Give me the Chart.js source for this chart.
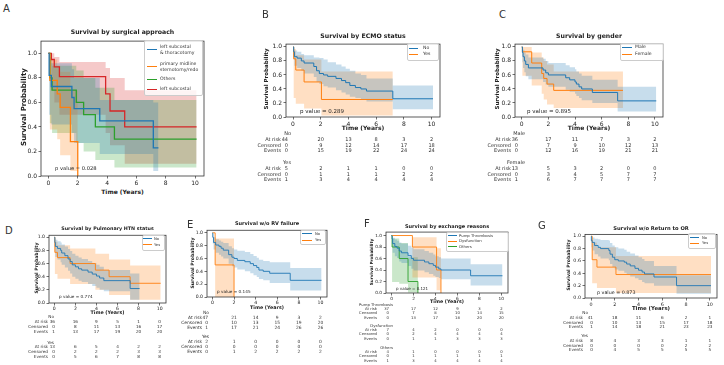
<!DOCTYPE html>
<html>
<head>
<meta charset="utf-8">
<script src="https://cdn.jsdelivr.net/npm/chart.js@4/dist/chart.umd.min.js"></script>
<style>
  body { margin: 0; background: #fff; }
  #fig { position: relative; width: 724px; height: 365px; overflow: hidden; background: #fff;
         font-family: "DejaVu Sans", sans-serif; color: #222; }
  .abs { position: absolute; white-space: pre; line-height: 1.2; }
  .box { position: absolute; }
  .leg { position: absolute; border: 0.6px solid #ccc; border-radius: 2px; background: rgba(255,255,255,0.8); }
  .sw { position: absolute; height: 0; }
</style>
</head>
<body>
<div id="fig"></div>
<script>
// ---- data ----
const xTicks = [0, 2, 4, 6, 8, 10];
const yTicks = [0, 0.2, 0.4, 0.6, 0.8, 1.0];
const rowNames = ['At risk', 'Censored', 'Events'];

// A: survival by surgical approach
const aLabels = ['left subcostal\n& thoracotomy', 'primary midline\nsternotomy/redo', 'Others', 'left subcostal'];
const aThorT  = [0, 0.05, 0.2, 1.6, 1.75, 3.5, 7.15, 7.5];
const aThorS  = [1, 0.82, 0.73, 0.64, 0.55, 0.45, 0.23, 0.23];
const aThorHi = [1, 0.97, 0.92, 0.87, 0.8, 0.62, 0.6, 0.6];
const aThorLo = [1, 0.5, 0.42, 0.35, 0.27, 0.18, 0.04, 0.04];
const aMidT  = [0, 0.1, 0.6, 0.8, 1.5, 2.0];
const aMidS  = [1, 0.78, 0.67, 0.56, 0.28, 0];
const aMidHi = [1, 0.95, 0.9, 0.85, 0.7, 0];
const aMidLo = [1, 0.38, 0.3, 0.17, 0.04, 0];
const aOthT  = [0, 0.1, 0.25, 1.9, 2.4, 3.2, 4.5, 10.1];
const aOthS  = [1, 0.8, 0.7, 0.6, 0.5, 0.4, 0.3, 0.3];
const aOthHi = [1, 0.95, 0.9, 0.86, 0.8, 0.72, 0.62, 0.62];
const aOthLo = [1, 0.43, 0.35, 0.27, 0.2, 0.13, 0.07, 0.07];
const aSubT  = [0, 0.2, 0.4, 0.75, 3.9, 4.2, 5.2, 10.1];
const aSubS  = [1, 0.95, 0.89, 0.81, 0.67, 0.53, 0.4, 0.4];
const aSubHi = [1, 1.0, 0.97, 0.93, 0.88, 0.8, 0.7, 0.7];
const aSubLo = [1, 0.7, 0.6, 0.5, 0.35, 0.25, 0.1, 0.1];

// B: ECMO status
const bLabels = ['No', 'Yes'];
const bNoT  = [0, 0.05, 0.1, 0.3, 0.6, 0.8, 1.5, 1.7, 1.9, 2.2, 2.5, 3.1, 3.5, 3.8, 4.1, 4.5, 4.9, 5.3, 7.2, 10.1];
const bNoS  = [1, 0.93, 0.86, 0.84, 0.8, 0.77, 0.72, 0.66, 0.62, 0.6, 0.58, 0.55, 0.52, 0.49, 0.45, 0.42, 0.4, 0.37, 0.26, 0.26];
const bNoHi = [1, 0.98, 0.95, 0.93, 0.9, 0.88, 0.85, 0.85, 0.84, 0.82, 0.78, 0.75, 0.72, 0.69, 0.66, 0.62, 0.6, 0.55, 0.45, 0.45];
const bNoLo = [1, 0.82, 0.73, 0.7, 0.66, 0.62, 0.57, 0.5, 0.47, 0.44, 0.42, 0.38, 0.35, 0.32, 0.29, 0.27, 0.25, 0.22, 0.11, 0.11];
const bYesT  = [0, 0.05, 0.2, 0.8, 2.05, 7.2];
const bYesS  = [1, 0.83, 0.67, 0.5, 0.25, 0.25];
const bYesHi = [1, 0.97, 0.88, 0.82, 0.65, 0.65];
const bYesLo = [1, 0.27, 0.19, 0.12, 0.02, 0.02];
const bNoRisk = [44, 20, 13, 8, 3, 2],  bNoCens = [0, 9, 12, 14, 17, 18], bNoEvents = [0, 15, 19, 22, 24, 24];
const bYesRisk = [5, 2, 1, 1, 0, 0],    bYesCens = [0, 1, 1, 1, 2, 2],    bYesEvents = [1, 3, 4, 4, 4, 4];

// C: gender
const cLabels = ['Male', 'Female'];
const cMaleT  = [0, 0.05, 0.1, 0.2, 0.3, 0.5, 1.6, 1.8, 2.0, 3.3, 3.6, 4.0, 4.1, 4.3, 4.5, 5.3, 7.2, 10.1];
const cMaleS  = [1, 0.92, 0.86, 0.8, 0.75, 0.7, 0.67, 0.63, 0.6, 0.56, 0.53, 0.5, 0.47, 0.43, 0.4, 0.35, 0.23, 0.23];
const cMaleHi = [1, 0.99, 0.96, 0.92, 0.89, 0.85, 0.83, 0.8, 0.77, 0.74, 0.71, 0.68, 0.65, 0.62, 0.59, 0.53, 0.43, 0.43];
const cMaleLo = [1, 0.78, 0.7, 0.64, 0.58, 0.54, 0.5, 0.46, 0.43, 0.39, 0.36, 0.33, 0.3, 0.27, 0.24, 0.2, 0.08, 0.08];
const cFemT  = [0, 0.05, 0.75, 1.5, 1.65, 1.9, 2.4, 7.6];
const cFemS  = [1, 0.93, 0.77, 0.62, 0.55, 0.47, 0.38, 0.38];
const cFemHi = [1, 1.0, 0.92, 0.85, 0.8, 0.75, 0.65, 0.65];
const cFemLo = [1, 0.59, 0.45, 0.33, 0.25, 0.18, 0.13, 0.13];
const cMaleRisk = [36, 17, 11, 7, 3, 2], cMaleCens = [0, 7, 9, 10, 12, 13], cMaleEvents = [0, 12, 16, 19, 21, 21];
const cFemRisk = [13, 5, 3, 2, 0, 0],    cFemCens = [0, 3, 4, 5, 7, 7],     cFemEvents = [1, 6, 7, 7, 7, 7];

// D: pulmonary HTN
const dLabels = ['No', 'Yes'];
const dNoT  = [0, 0.05, 0.1, 0.3, 0.6, 0.7, 1.0, 1.3, 1.5, 1.7, 2.0, 2.3, 2.6, 3.2, 3.6, 4.0, 4.3, 4.7, 7.2, 8.1];
const dNoS  = [1, 0.92, 0.86, 0.83, 0.8, 0.76, 0.72, 0.67, 0.63, 0.58, 0.55, 0.52, 0.5, 0.47, 0.44, 0.41, 0.38, 0.34, 0.22, 0.22];
const dNoHi = [1, 0.99, 0.96, 0.94, 0.92, 0.89, 0.86, 0.82, 0.79, 0.75, 0.72, 0.69, 0.67, 0.64, 0.61, 0.58, 0.55, 0.5, 0.45, 0.45];
const dNoLo = [1, 0.78, 0.7, 0.66, 0.62, 0.58, 0.54, 0.49, 0.45, 0.4, 0.37, 0.34, 0.32, 0.29, 0.26, 0.23, 0.2, 0.18, 0.05, 0.05];
const dYesT  = [0, 0.05, 0.3, 1.5, 3.9, 5.2, 7.2, 10.1];
const dYesS  = [1, 0.77, 0.69, 0.6, 0.5, 0.4, 0.3, 0.3];
const dYesHi = [1, 0.93, 0.88, 0.83, 0.75, 0.66, 0.57, 0.57];
const dYesLo = [1, 0.44, 0.37, 0.29, 0.2, 0.12, 0.05, 0.05];
const dNoRisk = [36, 16, 9, 5, 1, 0],  dNoCens = [0, 8, 11, 13, 16, 17], dNoEvents = [1, 13, 17, 19, 20, 20];
const dYesRisk = [13, 6, 5, 4, 2, 2],  dYesCens = [0, 2, 2, 2, 3, 3],    dYesEvents = [0, 5, 6, 7, 8, 8];

// E: RV failure
const eLabels = ['No', 'Yes'];
const eNoT  = [0, 0.03, 0.1, 0.3, 0.6, 0.8, 1.0, 1.5, 1.8, 2.0, 2.3, 3.0, 3.5, 3.8, 4.1, 4.3, 4.7, 5.3, 7.2, 10.1];
const eNoS  = [1, 0.93, 0.85, 0.81, 0.79, 0.76, 0.73, 0.66, 0.62, 0.6, 0.57, 0.55, 0.52, 0.49, 0.46, 0.42, 0.4, 0.37, 0.26, 0.26];
const eNoHi = [1, 0.98, 0.93, 0.9, 0.88, 0.86, 0.84, 0.79, 0.76, 0.74, 0.72, 0.7, 0.67, 0.64, 0.61, 0.58, 0.56, 0.54, 0.45, 0.45];
const eNoLo = [1, 0.83, 0.74, 0.69, 0.66, 0.63, 0.6, 0.52, 0.48, 0.46, 0.43, 0.4, 0.37, 0.34, 0.31, 0.28, 0.26, 0.22, 0.1, 0.1];
const eYesT  = [0, 0.25, 2.0];
const eYesS  = [1, 0.5, 0];
const eYesHi = [1, 0.91, 0];
const eYesLo = [1, 0, 0];
const eNoRisk = [47, 21, 14, 9, 3, 2], eNoCens = [0, 10, 13, 15, 19, 20], eNoEvents = [1, 17, 21, 24, 26, 26];
const eYesRisk = [2, 1, 0, 0, 0, 0],   eYesCens = [0, 0, 0, 0, 0, 0],     eYesEvents = [0, 1, 2, 2, 2, 2];

// F: exchange reasons
const fLabels = ['Pump Thrombosis', 'Dysfunction', 'Others'];
const fPumpT  = [0, 0.05, 0.1, 0.3, 0.5, 0.7, 0.9, 1.5, 1.8, 2.0, 3.0, 3.4, 3.8, 4.0, 4.3, 4.5, 7.2, 10.1];
const fPumpS  = [1, 0.94, 0.86, 0.81, 0.78, 0.73, 0.7, 0.65, 0.6, 0.57, 0.54, 0.51, 0.48, 0.45, 0.42, 0.4, 0.3, 0.3];
const fPumpHi = [1, 0.99, 0.96, 0.93, 0.91, 0.88, 0.86, 0.82, 0.79, 0.76, 0.73, 0.7, 0.67, 0.64, 0.62, 0.6, 0.5, 0.5];
const fPumpLo = [1, 0.8, 0.7, 0.64, 0.61, 0.55, 0.52, 0.47, 0.42, 0.39, 0.36, 0.33, 0.3, 0.28, 0.26, 0.24, 0.13, 0.13];
const fDysT  = [0, 1.9, 4.1, 4.5];
const fDysS  = [1, 0.8, 0.4, 0];
const fDysHi = [1, 0.97, 0.78, 0];
const fDysLo = [1, 0.27, 0.05, 0];
const fOthT  = [0, 0.05, 0.7, 1.5, 2.4];
const fOthS  = [1, 0.8, 0.6, 0.2, 0];
const fOthHi = [1, 0.95, 0.87, 0.62, 0];
const fOthLo = [1, 0.19, 0.16, 0.01, 0];
const fPumpRisk = [37, 17, 12, 9, 3, 2], fPumpCens = [0, 7, 8, 10, 14, 15], fPumpEvents = [0, 13, 17, 18, 20, 20];
const fDysRisk = [7, 4, 2, 0, 0, 0],     fDysCens = [0, 2, 4, 4, 4, 4],     fDysEvents = [0, 1, 1, 3, 3, 3];
const fOthRisk = [4, 1, 0, 0, 0, 0],     fOthCens = [0, 1, 1, 1, 1, 1],     fOthEvents = [1, 3, 4, 4, 4, 4];

// G: return to OR
const gLabels = ['No', 'Yes'];
const gNoT  = [0, 0.03, 0.1, 0.3, 0.6, 0.8, 1.5, 1.6, 1.8, 2.0, 2.3, 2.8, 3.0, 3.3, 3.7, 4.0, 4.3, 4.5, 5.3, 7.2, 10.1];
const gNoS  = [1, 0.93, 0.9, 0.85, 0.82, 0.8, 0.77, 0.71, 0.66, 0.62, 0.6, 0.58, 0.55, 0.52, 0.48, 0.45, 0.42, 0.39, 0.34, 0.2, 0.2];
const gNoHi = [1, 0.99, 0.98, 0.96, 0.95, 0.94, 0.93, 0.89, 0.85, 0.82, 0.8, 0.78, 0.75, 0.72, 0.69, 0.66, 0.63, 0.6, 0.52, 0.37, 0.37];
const gNoLo = [1, 0.82, 0.77, 0.71, 0.67, 0.64, 0.61, 0.55, 0.5, 0.46, 0.44, 0.41, 0.38, 0.35, 0.32, 0.29, 0.26, 0.24, 0.2, 0.07, 0.07];
const gYesT  = [0, 0.1, 0.5, 2.1, 10.1];
const gYesS  = [1, 0.62, 0.5, 0.38, 0.38];
const gYesHi = [1, 0.9, 0.82, 0.68, 0.68];
const gYesLo = [1, 0.24, 0.16, 0.08, 0.08];
const gNoRisk = [41, 18, 11, 6, 2, 1], gNoCens = [0, 10, 13, 15, 17, 18], gNoEvents = [1, 14, 18, 21, 23, 23];
const gYesRisk = [8, 4, 3, 3, 1, 1],   gYesCens = [0, 0, 0, 0, 2, 2],     gYesEvents = [0, 4, 5, 5, 5, 5];

// ---- drawing ----
const BLUE = '#1f77b4', ORANGE = '#ff7f0e', GREEN = '#2ca02c', RED = '#d62728';
const FONT = '"DejaVu Sans", sans-serif';
const fig = document.getElementById('fig');

function rgba(hex, a) {
  const n = parseInt(hex.slice(1), 16);
  return `rgba(${n >> 16},${(n >> 8) & 255},${n & 255},${a})`;
}

function put(s, x, y, o = {}) {
  const d = document.createElement('div');
  d.className = 'abs';
  d.textContent = s;
  d.style.left = x + 'px';
  d.style.top = y + 'px';
  d.style.fontSize = (o.fs || 5) + 'px';
  if (o.bold) d.style.fontWeight = 'bold';
  if (o.col) d.style.color = o.col;
  if (o.ff) d.style.fontFamily = o.ff;
  const ax = { l: '0', c: '-50%', r: '-100%' }[o.al || 'l'];
  d.style.transform = o.rot ? 'translate(-50%,-50%) rotate(-90deg)' : `translate(${ax},-50%)`;
  fig.appendChild(d);
  return d;
}

const framePlugin = {
  id: 'frame',
  afterDatasetsDraw(c) {
    const a = c.chartArea, x = c.ctx;
    x.save();
    x.strokeStyle = '#333';
    x.lineWidth = 0.8;
    x.strokeRect(a.left, a.top, a.right - a.left, a.bottom - a.top);
    x.restore();
  }
};

function panel(p) {
  const box = document.createElement('div');
  box.className = 'box';
  box.style.left = (p.l - p.yw) + 'px';
  box.style.top = (p.t - 2) + 'px';
  box.style.width = (p.r - p.l + p.yw + 3) + 'px';
  box.style.height = (p.b - p.t + p.xh + 2) + 'px';
  const cv = document.createElement('canvas');
  box.appendChild(cv);
  fig.appendChild(box);

  const datasets = [];
  p.series.forEach(s => {
    const pts = arr => s.t.map((x, i) => ({ x, y: arr[i] }));
    datasets.push({ data: pts(s.s), borderColor: s.c, borderWidth: p.lw, stepped: true,
                    pointRadius: 0, fill: false, order: 0 });
    datasets.push({ data: pts(s.hi), borderColor: 'transparent', borderWidth: 0, stepped: true,
                    pointRadius: 0, fill: '+1', backgroundColor: rgba(s.c, 0.25), order: 1 });
    datasets.push({ data: pts(s.lo), borderColor: 'transparent', borderWidth: 0, stepped: true,
                    pointRadius: 0, fill: false, order: 1 });
  });

  const tickFont = { family: FONT, size: p.tf };
  const grid = { drawOnChartArea: false, color: '#333', tickLength: 2.5, lineWidth: 0.7 };
  const chart = new Chart(cv, {
    type: 'line',
    data: { datasets },
    options: {
      responsive: true,
      maintainAspectRatio: false,
      animation: false,
      events: [],
      layout: { padding: { top: 2, right: 3, left: 0, bottom: 0 } },
      plugins: { legend: { display: false }, tooltip: { enabled: false } },
      scales: {
        x: {
          type: 'linear', min: -0.505, max: 10.605,
          afterBuildTicks: sc => { sc.ticks = xTicks.map(v => ({ value: v })); },
          afterFit: sc => { sc.height = p.xh; },
          grid, border: { display: false },
          ticks: { font: tickFont, color: '#222', padding: 1, maxRotation: 0, autoSkip: false }
        },
        y: {
          type: 'linear', min: 0, max: p.ymax,
          afterBuildTicks: sc => { sc.ticks = yTicks.map(v => ({ value: v })); },
          afterFit: sc => { sc.width = p.yw; },
          grid, border: { display: false },
          ticks: { font: tickFont, color: '#222', padding: 1.5, autoSkip: false,
                   callback: v => Number(v).toFixed(1) }
        }
      }
    },
    plugins: [framePlugin]
  });

  // panel letter, title, axis labels, p value
  put(p.letter[0], p.letter[1], p.letter[2], { fs: 10, col: '#333' });
  put(p.title[0], (p.l + p.r) / 2, p.title[1], { fs: p.title[2], bold: true, al: 'c' });
  put('Survival Probability', p.ylab[0], (p.t + p.b) / 2, { fs: p.ylab[1], bold: true, rot: true });
  put('Time (Years)', (p.l + p.r) / 2, p.xlab[0], { fs: p.xlab[1], bold: true, al: 'c' });
  put(p.pval[0], p.pval[1], p.pval[2], { fs: p.pval[3] });

  // legend
  const L = p.legend;
  const lg = document.createElement('div');
  lg.className = 'leg';
  lg.style.left = L.box[0] + 'px';
  lg.style.top = L.box[1] + 'px';
  lg.style.width = (L.box[2] - L.box[0]) + 'px';
  lg.style.height = (L.box[3] - L.box[1]) + 'px';
  fig.appendChild(lg);
  p.series.forEach((s, i) => {
    const sw = document.createElement('div');
    sw.className = 'sw';
    sw.style.left = L.x1 + 'px';
    sw.style.top = (L.ys[i] - 0.5) + 'px';
    sw.style.width = (L.x2 - L.x1) + 'px';
    sw.style.borderTop = `${p.lw}px solid ${s.c}`;
    fig.appendChild(sw);
    put(L.labels[i], L.tx, L.ys[i], { fs: L.fs, col: '#333' });
  });

  // at-risk table
  if (p.table) {
    const T = p.table;
    const cols = xTicks.map(v => p.l - p.yw + chart.scales.x.getPixelForValue(v));
    T.groups.forEach(g => {
      put(g.name, T.hx, g.y, { fs: T.fs, al: 'r', col: '#333' });
      g.rows.forEach((vals, k) => {
        const y = g.y + (k + 1) * T.dy;
        put(rowNames[k], T.lx, y, { fs: T.fs, al: 'r', col: '#333' });
        vals.forEach((v, j) => {
          if (j === 0) put(String(v), T.c0, y, { fs: T.fs, al: 'r', col: '#333' });
          else put(String(v), cols[j], y, { fs: T.fs, al: 'c', col: '#333' });
        });
      });
    });
  }
}

const ser = (t, s, lo, hi, c) => ({ t, s, lo, hi, c });

panel({
  l: 41, t: 38, r: 204, b: 176, ymax: 1.1, lw: 1.3, tf: 6, yw: 22, xh: 12,
  letter: ['A', 3, 9], title: ['Survival by surgical approach', 32, 6.2],
  ylab: [24, 7], xlab: [192, 6], pval: ['p value = 0.028', 55, 168, 5.2],
  series: [ser(aThorT, aThorS, aThorLo, aThorHi, BLUE), ser(aMidT, aMidS, aMidLo, aMidHi, ORANGE),
           ser(aOthT, aOthS, aOthLo, aOthHi, GREEN), ser(aSubT, aSubS, aSubLo, aSubHi, RED)],
  legend: { box: [144, 40, 201, 94], x1: 147, x2: 157, tx: 160, ys: [49, 66, 79, 89], fs: 4.6, labels: aLabels }
});

panel({
  l: 286, t: 41, r: 440, b: 117, ymax: 1.04, lw: 1, tf: 6, yw: 22, xh: 11,
  letter: ['B', 262, 15], title: ['Survival by ECMO status', 36, 6.2],
  ylab: [266, 5.5], xlab: [128, 6], pval: ['p value = 0.289', 300, 111, 5.5],
  series: [ser(bNoT, bNoS, bNoLo, bNoHi, BLUE), ser(bYesT, bYesS, bYesLo, bYesHi, ORANGE)],
  legend: { box: [407, 43, 437, 59], x1: 409, x2: 418, tx: 423, ys: [48, 54], fs: 4.6, labels: bLabels },
  table: { fs: 5, dy: 5.8, hx: 291, lx: 281, c0: 288, groups: [
    { name: 'No', y: 133, rows: [bNoRisk, bNoCens, bNoEvents] },
    { name: 'Yes', y: 162, rows: [bYesRisk, bYesCens, bYesEvents] }] }
});

panel({
  l: 515, t: 41, r: 663, b: 117, ymax: 1.04, lw: 1, tf: 6, yw: 22, xh: 11,
  letter: ['C', 499, 15], title: ['Survival by gender', 36, 6.2],
  ylab: [497, 5.5], xlab: [128, 6], pval: ['p value = 0.895', 527, 111, 5.5],
  series: [ser(cMaleT, cMaleS, cMaleLo, cMaleHi, BLUE), ser(cFemT, cFemS, cFemLo, cFemHi, ORANGE)],
  legend: { box: [620, 43, 662, 59], x1: 622, x2: 632, tx: 635, ys: [47, 54], fs: 4.6, labels: cLabels },
  table: { fs: 5, dy: 5.8, hx: 525, lx: 511, c0: 518, groups: [
    { name: 'Male', y: 133, rows: [cMaleRisk, cMaleCens, cMaleEvents] },
    { name: 'Female', y: 162, rows: [cFemRisk, cFemCens, cFemEvents] }] }
});

panel({
  l: 49, t: 233, r: 166, b: 303, ymax: 1.03, lw: 0.9, tf: 4.6, yw: 18, xh: 9,
  letter: ['D', 5, 231], title: ['Survival by Pulmonary HTN status', 229, 4.8],
  ylab: [37, 4.6], xlab: [313, 4.8], pval: ['p value = 0.774', 59, 297, 4.2],
  series: [ser(dNoT, dNoS, dNoLo, dNoHi, BLUE), ser(dYesT, dYesS, dYesLo, dYesHi, ORANGE)],
  legend: { box: [142, 235, 163, 249], x1: 143, x2: 152, tx: 154, ys: [238.5, 244.5], fs: 3.8, labels: dLabels },
  table: { fs: 4.2, dy: 4.9, hx: 54, lx: 48, c0: 55, groups: [
    { name: 'No', y: 317, rows: [dNoRisk, dNoCens, dNoEvents] },
    { name: 'Yes', y: 342.5, rows: [dYesRisk, dYesCens, dYesEvents] }] }
});

panel({
  l: 207, t: 228, r: 327, b: 297, ymax: 1.04, lw: 0.9, tf: 4.6, yw: 18, xh: 9,
  letter: ['E', 187, 225], title: ['Survival w/o RV failure', 223, 5],
  ylab: [193, 4.6], xlab: [308, 4.8], pval: ['p value = 0.145', 217, 292, 4.2],
  series: [ser(eNoT, eNoS, eNoLo, eNoHi, BLUE), ser(eYesT, eYesS, eYesLo, eYesHi, ORANGE)],
  legend: { box: [300, 230, 324, 243], x1: 302, x2: 312, tx: 315, ys: [233.5, 240], fs: 3.8, labels: eLabels },
  table: { fs: 4.4, dy: 5, hx: 209, lx: 202, c0: 208, groups: [
    { name: 'No', y: 313, rows: [eNoRisk, eNoCens, eNoEvents] },
    { name: 'Yes', y: 337, rows: [eYesRisk, eYesCens, eYesEvents] }] }
});

panel({
  l: 386, t: 230, r: 508, b: 293, ymax: 1.06, lw: 0.9, tf: 4.3, yw: 18, xh: 9,
  letter: ['F', 364, 224], title: ['Survival by exchange reasons', 226, 5],
  ylab: [372, 4.2], xlab: [302, 4.8], pval: ['p value = 0.121', 396, 289, 4],
  series: [ser(fPumpT, fPumpS, fPumpLo, fPumpHi, BLUE), ser(fDysT, fDysS, fDysLo, fDysHi, ORANGE),
           ser(fOthT, fOthS, fOthLo, fOthHi, GREEN)],
  legend: { box: [446, 232, 507, 250], x1: 448, x2: 457, tx: 459, ys: [235.5, 241, 246.5], fs: 3.8, labels: fLabels },
  table: { fs: 3.8, dy: 4.2, hx: 393, lx: 377, c0: 389, groups: [
    { name: 'Pump Thrombosis', y: 305, rows: [fPumpRisk, fPumpCens, fPumpEvents] },
    { name: 'Dysfunction', y: 326, rows: [fDysRisk, fDysCens, fDysEvents] },
    { name: 'Others', y: 348, rows: [fOthRisk, fOthCens, fOthEvents] }] }
});

panel({
  l: 585, t: 232, r: 717, b: 298, ymax: 1.03, lw: 0.9, tf: 4.8, yw: 18, xh: 9,
  letter: ['G', 538, 226], title: ['Survival w/o Return to OR', 228, 5.2],
  ylab: [569, 4.6], xlab: [308, 5.4], pval: ['p value = 0.873', 597, 293, 4.8],
  series: [ser(gNoT, gNoS, gNoLo, gNoHi, BLUE), ser(gYesT, gYesS, gYesLo, gYesHi, ORANGE)],
  legend: { box: [688, 233, 714, 247], x1: 690, x2: 699, tx: 702, ys: [237.5, 243], fs: 3.8, labels: gLabels },
  table: { fs: 4.2, dy: 4.8, hx: 588, lx: 583, c0: 593, groups: [
    { name: 'No', y: 313, rows: [gNoRisk, gNoCens, gNoEvents] },
    { name: 'Yes', y: 336, rows: [gYesRisk, gYesCens, gYesEvents] }] }
});
</script>
</body>
</html>
